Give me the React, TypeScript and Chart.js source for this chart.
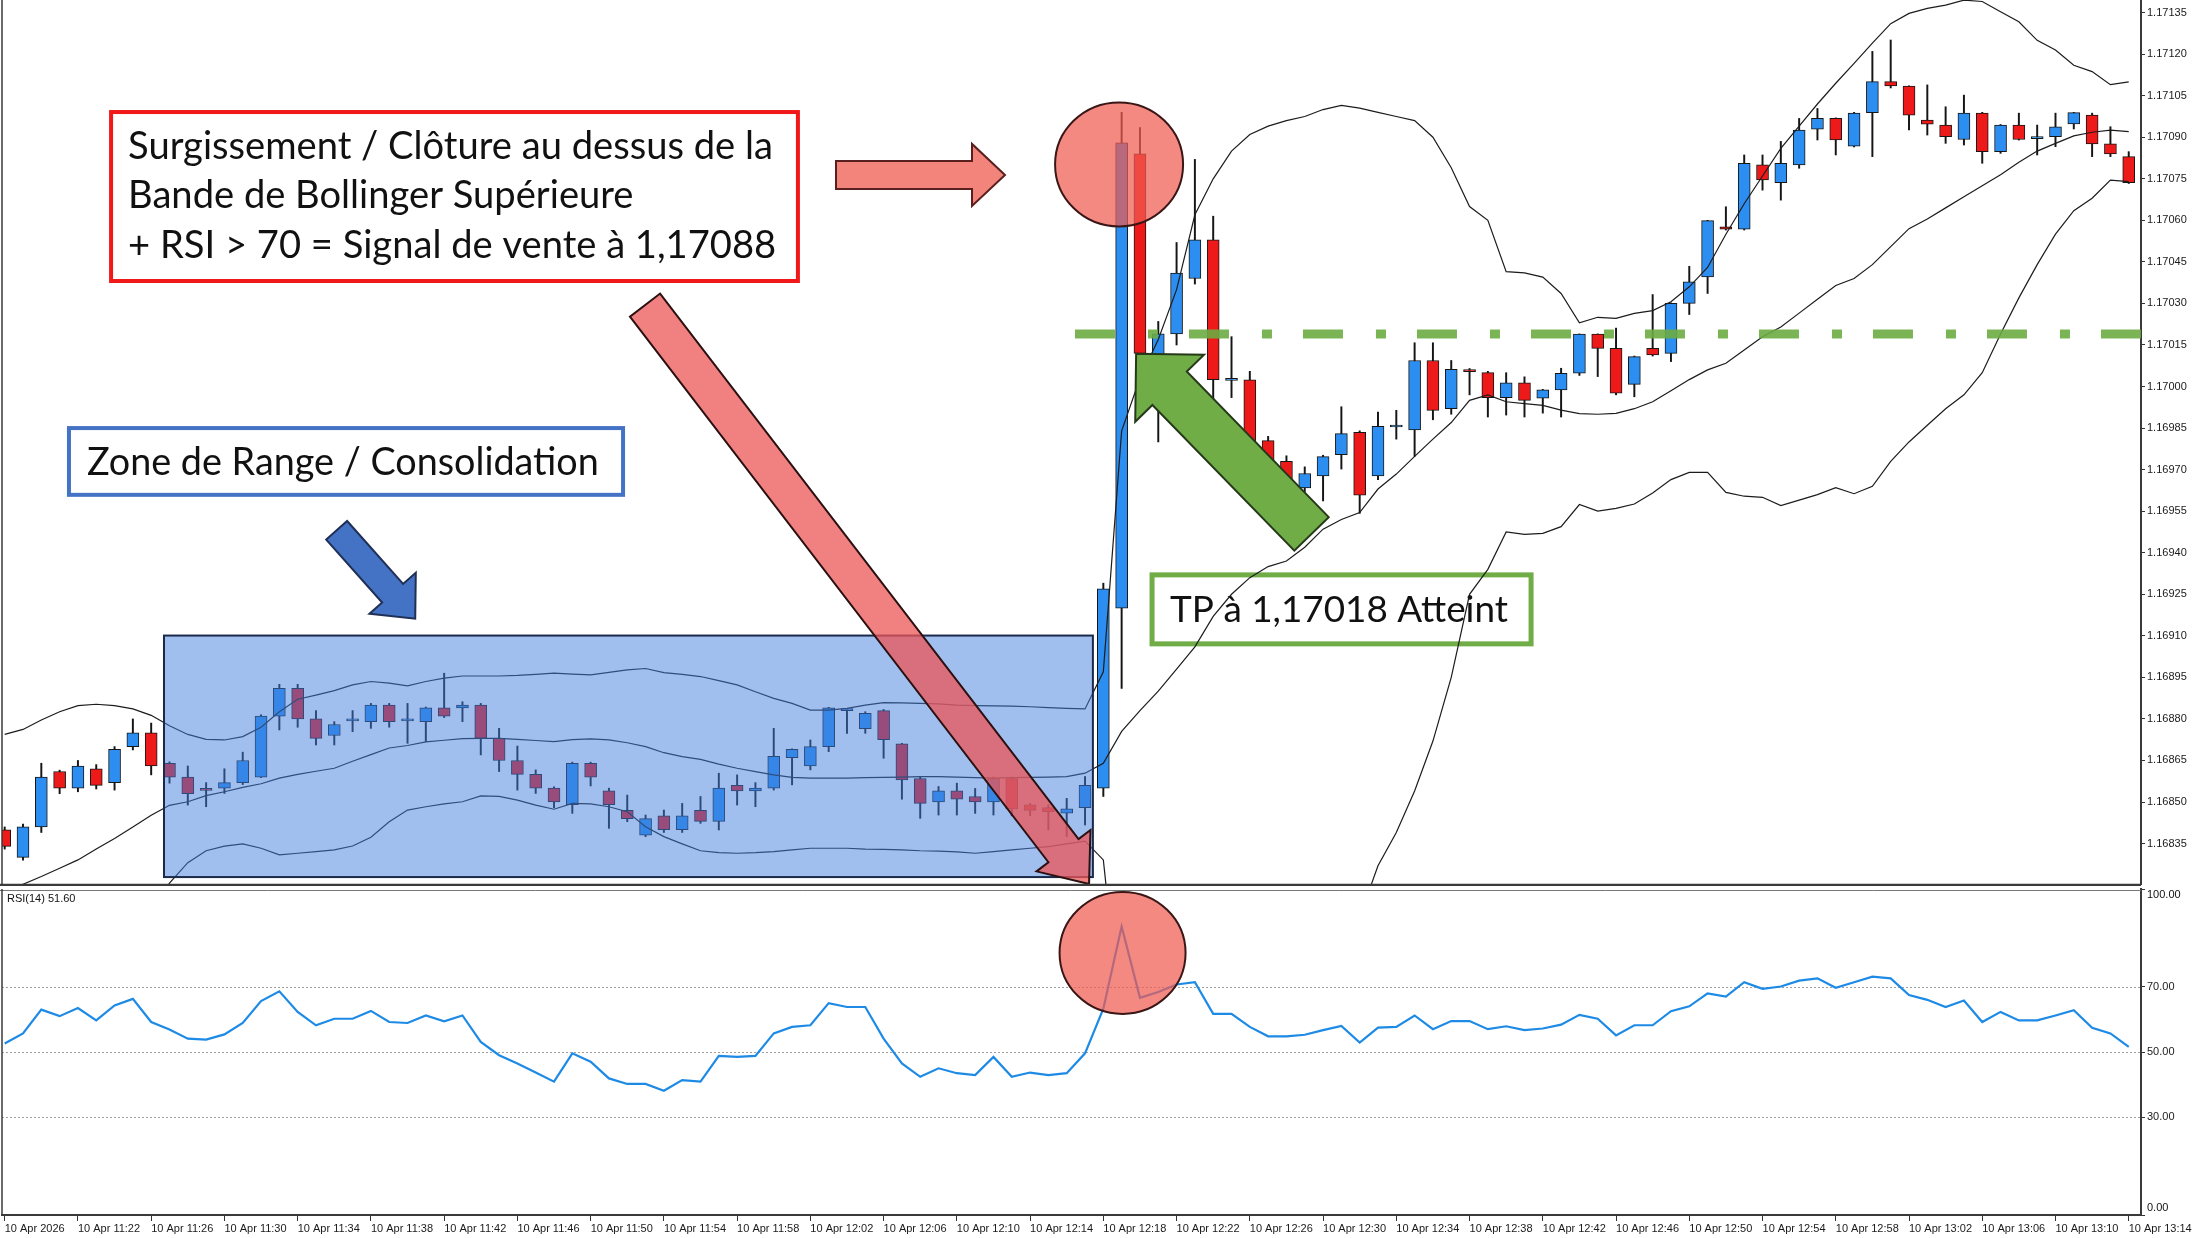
import React, { useEffect, useRef } from 'react';
import { Chart, registerables } from 'chart.js';

Chart.register(...registerables);

// ---------------- DATA (EURUSD M1, 10 Apr 2026, 11:18 -> 13:14) ----------------
const opens = [
  1.16840, 1.16830, 1.16841, 1.16861, 1.16855, 1.16862, 1.16857, 1.16870, 1.16875, 1.16864,
  1.16859, 1.168546, 1.16855, 1.16857, 1.16859, 1.16881, 1.16891, 1.16880, 1.16874, 1.168793,
  1.16879, 1.16885, 1.168793, 1.16879, 1.16884, 1.16884, 1.16885, 1.16873, 1.16865, 1.16860,
  1.16855, 1.16849, 1.16864, 1.16854, 1.16847, 1.16838, 1.16845, 1.16840, 1.16847, 1.16843,
  1.16856, 1.16854, 1.16855, 1.16866, 1.16863, 1.16870, 1.16883, 1.168765, 1.16883, 1.16871,
  1.168585, 1.16850, 1.16854, 1.16852, 1.16850, 1.168585, 1.16849, 1.16848, 1.16846, 1.16848,
  1.16855, 1.16920, 1.17084, 1.17011, 1.17019, 1.17039, 1.17053, 1.170022, 1.170024, 1.169805,
  1.16973, 1.169634, 1.169677, 1.169754, 1.169835, 1.169677, 1.169854, 1.169843, 1.170094, 1.16992,
  1.17006, 1.17005, 1.16996, 1.170013, 1.169958, 1.169988, 1.170048, 1.170189, 1.170138, 1.170008,
  1.170138, 1.17012, 1.17030, 1.170396, 1.170577, 1.170568, 1.17080, 1.170736, 1.17080, 1.170929,
  1.170968, 1.170868, 1.170989, 1.171101, 1.171085, 1.170962, 1.170944, 1.170892, 1.170987, 1.170848,
  1.170944, 1.170895, 1.170902, 1.170948, 1.17098, 1.170876, 1.17083
];
const highs = [
  1.16841, 1.16842, 1.16864, 1.168615, 1.16865, 1.168635, 1.16870, 1.16880, 1.168785, 1.168645,
  1.16863, 1.16857, 1.16862, 1.16868, 1.168815, 1.168925, 1.168925, 1.16883, 1.16879, 1.16883,
  1.168856, 1.168856, 1.168856, 1.168843, 1.168965, 1.168862, 1.168856, 1.168766, 1.168702, 1.168616,
  1.168555, 1.168644, 1.168644, 1.16855, 1.168525, 1.168453, 1.168471, 1.168495, 1.16852, 1.168604,
  1.168598, 1.16857, 1.168766, 1.168692, 1.168724, 1.168842, 1.168835, 1.168826, 1.168834, 1.168712,
  1.16859, 1.168556, 1.168568, 1.168549, 1.16859, 1.16859, 1.168495, 1.16849, 1.168513, 1.168592,
  1.16929, 1.17099, 1.170935, 1.170235, 1.17052, 1.17082, 1.170615, 1.17018, 1.170055, 1.16982,
  1.16975, 1.16971, 1.169752, 1.169927, 1.16984, 1.169908, 1.169914, 1.170158, 1.170158, 1.170094,
  1.170065, 1.170055, 1.17005, 1.170035, 1.16999, 1.170066, 1.17019, 1.17019, 1.170211, 1.17011,
  1.170332, 1.170302, 1.170434, 1.17060, 1.170649, 1.170836, 1.170836, 1.170885, 1.170968, 1.171004,
  1.17097, 1.17099, 1.17121, 1.171251, 1.171086, 1.171089, 1.17101, 1.171052, 1.17099, 1.170946,
  1.170987, 1.170944, 1.170987, 1.17099, 1.170987, 1.170938, 1.170848
];
const lows = [
  1.16833, 1.16829, 1.16839, 1.16853, 1.168537, 1.168547, 1.168543, 1.168688, 1.168598, 1.168568,
  1.168489, 1.168483, 1.168531, 1.168563, 1.168588, 1.16876, 1.16877, 1.168706, 1.168706, 1.168754,
  1.168766, 1.16877, 1.168712, 1.168718, 1.168805, 1.16879, 1.16867, 1.16861, 1.168543, 1.168531,
  1.16848, 1.168459, 1.168558, 1.168405, 1.168429, 1.168375, 1.16839, 1.16839, 1.168423, 1.168399,
  1.168489, 1.168483, 1.168543, 1.168562, 1.168616, 1.168682, 1.168748, 1.168748, 1.168658, 1.16851,
  1.168441, 1.168453, 1.168453, 1.168459, 1.168453, 1.16845, 1.16845, 1.168399, 1.168375, 1.168417,
  1.16852, 1.16891, 1.17005, 1.16980, 1.17015, 1.17037, 1.16995, 1.16996, 1.16976, 1.16970,
  1.16961, 1.16962, 1.169587, 1.169702, 1.169542, 1.169664, 1.16981, 1.169748, 1.16988, 1.16990,
  1.16997, 1.16989, 1.169897, 1.16989, 1.169904, 1.16989, 1.17004, 1.170036, 1.16997, 1.169963,
  1.17011, 1.17009, 1.17026, 1.170336, 1.170565, 1.170565, 1.170709, 1.170673, 1.170788, 1.17089,
  1.170836, 1.170865, 1.17083, 1.171078, 1.170926, 1.170908, 1.170878, 1.170872, 1.170806, 1.170842,
  1.17089, 1.170836, 1.170866, 1.17093, 1.17083, 1.17083, 1.170733
];
const closes = [
  1.16834, 1.16841, 1.16859, 1.16855, 1.16863, 1.16856, 1.16869, 1.16875, 1.16863, 1.16859,
  1.16853, 1.168542, 1.16857, 1.16865, 1.16881, 1.16891, 1.16880, 1.16873, 1.16878, 1.168796,
  1.16885, 1.16879, 1.168796, 1.16884, 1.16881, 1.16885, 1.16873, 1.16865, 1.16860, 1.16855,
  1.16850, 1.16864, 1.16859, 1.16849, 1.16844, 1.16844, 1.16840, 1.16845, 1.16843, 1.16855,
  1.16854, 1.16855, 1.168665, 1.16869, 1.16870, 1.16884, 1.168833, 1.16882, 1.168725, 1.16858,
  1.168495, 1.16854, 1.16851, 1.16850, 1.168585, 1.168475, 1.16847, 1.168465, 1.168475, 1.16856,
  1.16927, 1.17088, 1.17012, 1.17019, 1.17041, 1.17053, 1.170025, 1.170028, 1.16980, 1.169735,
  1.16964, 1.169686, 1.169747, 1.16983, 1.169608, 1.169856, 1.16986, 1.170094, 1.169914, 1.170062,
  1.170054, 1.16996, 1.170013, 1.16995, 1.169988, 1.170048, 1.170189, 1.170138, 1.169976, 1.170108,
  1.170114, 1.17030, 1.170378, 1.170599, 1.170568, 1.170806, 1.170746, 1.170806, 1.170926, 1.170968,
  1.17089, 1.170987, 1.171101, 1.171085, 1.17098, 1.170947, 1.170902, 1.170987, 1.170848, 1.170944,
  1.170892, 1.170902, 1.170938, 1.170989, 1.170876, 1.17084, 1.170736
];
const bbUpper = [
  1.168744, 1.168762, 1.168796, 1.168826, 1.168848, 1.168853, 1.168848, 1.168836, 1.168813, 1.168775,
  1.168744, 1.168726, 1.168724, 1.168736, 1.16877, 1.168826, 1.168871, 1.168886, 1.168902, 1.168923,
  1.168935, 1.168929, 1.168919, 1.168935, 1.168947, 1.168955, 1.168955, 1.168955, 1.168957, 1.168961,
  1.168965, 1.168962, 1.168959, 1.168968, 1.168977, 1.168982, 1.168967, 1.168961, 1.168953, 1.168938,
  1.168923, 1.168898, 1.168874, 1.168856, 1.168832, 1.168832, 1.168838, 1.16885, 1.168859, 1.168858,
  1.168856, 1.168854, 1.16885, 1.168848, 1.168847, 1.168846, 1.168844, 1.168841, 1.168838, 1.168836,
  1.16897, 1.16984, 1.17003, 1.17017, 1.17035, 1.17062, 1.17075, 1.17085, 1.17091, 1.17094,
  1.17096, 1.170975, 1.17100, 1.171015, 1.171005, 1.17099, 1.170975, 1.17096, 1.17090, 1.17079,
  1.17065, 1.17060, 1.170415, 1.17041, 1.170395, 1.170336, 1.17023, 1.17025, 1.170246, 1.170264,
  1.170274, 1.170306, 1.17036, 1.17043, 1.17055, 1.17066, 1.17076, 1.17086, 1.17094, 1.17102,
  1.171095, 1.171167, 1.17124, 1.17131, 1.171347, 1.171365, 1.171377, 1.171395, 1.17139, 1.171353,
  1.171317, 1.17125, 1.171215, 1.17116, 1.171137, 1.17109, 1.17110
];
const bbMiddle = [
  1.168176, 1.168203, 1.168231, 1.168261, 1.168291, 1.16833, 1.168368, 1.16841, 1.168452, 1.168488,
  1.168501, 1.168523, 1.168537, 1.168553, 1.168566, 1.168586, 1.1686, 1.168611, 1.168622, 1.168647,
  1.168671, 1.168695, 1.168704, 1.168717, 1.168723, 1.168729, 1.16873, 1.16873, 1.168726, 1.168722,
  1.168718, 1.168725, 1.168728, 1.168724, 1.168714, 1.1687, 1.168678, 1.168664, 1.168654, 1.168637,
  1.168622, 1.16861, 1.168598, 1.168589, 1.168586, 1.168586, 1.168586, 1.168588, 1.168589, 1.16859,
  1.168592, 1.168592, 1.16859, 1.168588, 1.168586, 1.168588, 1.168589, 1.16859, 1.168592, 1.168604,
  1.16864, 1.168755, 1.16883, 1.16890, 1.16898, 1.16906, 1.16917, 1.16925, 1.16931, 1.16935,
  1.16937, 1.16942, 1.169485, 1.16952, 1.169545, 1.16963, 1.169684, 1.169748, 1.16981, 1.16987,
  1.16995, 1.16997, 1.169945, 1.169938, 1.169932, 1.169915, 1.169902, 1.1699, 1.169903, 1.16992,
  1.169945, 1.169985, 1.170025, 1.17006, 1.170084, 1.170132, 1.17018, 1.170215, 1.170265, 1.170315,
  1.170365, 1.17039, 1.17044, 1.170505, 1.17057, 1.170605, 1.170645, 1.170685, 1.170725, 1.170765,
  1.17081, 1.17085, 1.170878, 1.170905, 1.170918, 1.170926, 1.17092
];
const bbLower = [
  1.167608, 1.167644, 1.167666, 1.167696, 1.167734, 1.167807, 1.167888, 1.167984, 1.168091, 1.168207,
  1.168281, 1.168324, 1.168341, 1.168349, 1.168333, 1.168309, 1.168315, 1.168321, 1.168327, 1.168341,
  1.168373, 1.168429, 1.168471, 1.168483, 1.168493, 1.168501, 1.168522, 1.16852, 1.168507, 1.168489,
  1.168474, 1.168495, 1.168493, 1.168483, 1.168465, 1.168411, 1.168375, 1.168349, 1.168324, 1.168317,
  1.168315, 1.168317, 1.168321, 1.168327, 1.168333, 1.168333, 1.168333, 1.16833, 1.168329, 1.168327,
  1.168324, 1.168323, 1.16832, 1.168315, 1.168321, 1.168327, 1.168333, 1.168339, 1.168349, 1.168359,
  1.168291, 1.16767, 1.16763, 1.16763, 1.16761, 1.1675, 1.16759, 1.16765, 1.16771, 1.16776,
  1.16778, 1.167865, 1.16797, 1.168025, 1.168085, 1.16827, 1.16839, 1.16854, 1.16872, 1.16895,
  1.16925, 1.16934, 1.169475, 1.169466, 1.16947, 1.169494, 1.169574, 1.16955, 1.16956, 1.169576,
  1.169616, 1.169664, 1.16969, 1.16969, 1.169618, 1.169604, 1.1696, 1.16957, 1.16959, 1.16961,
  1.169635, 1.169613, 1.16964, 1.16973, 1.1698, 1.16986, 1.16992, 1.16997, 1.17005, 1.17019,
  1.17032, 1.17044, 1.17055, 1.170635, 1.17068, 1.170745, 1.17074
];
const rsi = [
  52.6, 55.7, 63, 61, 63.5, 59.7, 64.3, 66.3, 59.2, 56.9,
  54.1, 53.8, 55.4, 58.9, 65.6, 68.6, 62.3, 58.2, 60.2, 60.2,
  62.6, 59.2, 58.9, 61.2, 59.4, 61.2, 53.1, 49.0, 46.5, 43.7,
  40.9, 49.6, 47.0, 41.9, 40.2, 40.2, 38.1, 41.4, 40.9, 48.8,
  48.5, 48.8, 55.7, 57.7, 58.2, 65, 63.8, 63.8, 54.1, 46.5,
  42.4, 45, 43.5, 42.9, 48.5, 42.4, 43.7, 42.9, 43.5, 49.6,
  63.3, 88.5, 66.6, 68.4, 70.7, 71.4, 61.7, 61.7, 57.7, 54.8,
  54.8, 55.3, 56.7, 58, 52.9, 57.5, 57.7, 61.2, 57, 59.5,
  59.5, 57, 57.9, 56.7, 57.2, 58.4, 61.4, 60.2, 55.1, 58.2,
  58.2, 62.5, 64, 68, 67, 71.4, 69.4, 70.1, 71.9, 72.6,
  69.7, 71.4, 73.1, 72.6, 67.5, 66, 63.8, 65.8, 59.2, 62.3,
  59.7, 59.7, 61.2, 62.8, 57.4, 55.7, 51.6
];
const priceTicks = [
  1.16835, 1.16850, 1.16865, 1.16880, 1.16895, 1.16910, 1.16925, 1.16940, 1.16955, 1.16970, 1.16985,
  1.17000, 1.17015, 1.17030, 1.17045, 1.17060, 1.17075, 1.17090, 1.17105, 1.17120, 1.17135
];
const rsiTicks = [0, 30, 50, 70, 100];
const rsiLevels = [30, 50, 70];
const timeLabels = [
  '10 Apr 2026', '10 Apr 11:22', '10 Apr 11:26', '10 Apr 11:30', '10 Apr 11:34', '10 Apr 11:38',
  '10 Apr 11:42', '10 Apr 11:46', '10 Apr 11:50', '10 Apr 11:54', '10 Apr 11:58', '10 Apr 12:02',
  '10 Apr 12:06', '10 Apr 12:10', '10 Apr 12:14', '10 Apr 12:18', '10 Apr 12:22', '10 Apr 12:26',
  '10 Apr 12:30', '10 Apr 12:34', '10 Apr 12:38', '10 Apr 12:42', '10 Apr 12:46', '10 Apr 12:50',
  '10 Apr 12:54', '10 Apr 12:58', '10 Apr 13:02', '10 Apr 13:06', '10 Apr 13:10', '10 Apr 13:14'
];
const LABEL_STEP = 4;
const TP_LEVEL = 1.17019;

// ---------------- annotation anchors (bar index, price) ----------------
const RANGE_BOX = { i0: 8.7, i1: 59.43, p0: 1.169101, p1: 1.168229 };
const ZONE_BOX = { i0: 3.51, i1: 33.77, p0: 1.16985, p1: 1.169609 };
const RED_BOX = { i0: 5.81, i1: 43.32, p0: 1.170991, p1: 1.170381 };
const TP_BOX = { i0: 62.66, i1: 83.36, p0: 1.16932, p1: 1.169071 };
const BLUE_ARROW = { i0: 18.13, p0: 1.169481, i1: 22.42, p1: 1.169162 };
const PINK_ARROW = { i0: 45.4, i1: 54.63, p: 1.170764 };
const BIG_RED_ARROW = { i0: 34.97, p0: 1.170294, i1: 59.22, p1: 1.168204 };
const GREEN_ARROW = { i0: 71.37, p0: 1.169468, i1: 61.79, p1: 1.170118 };
const SPIKE_CIRCLE = { i: 60.86, p: 1.170802 };
const RSI_CIRCLE = { i: 61.05, v: 80.4 };
const TP_LINE_START = 58.45;

const ZONE_TEXT = 'Zone de Range / Consolidation';
const RED_TEXT = [
  'Surgissement / Clôture au dessus de la',
  'Bande de Bollinger Supérieure',
  '+ RSI > 70 = Signal de vente à 1,17088'
];
const TP_TEXT = 'TP à 1,17018 Atteint';

const X_MIN = -0.147;
const X_MAX = 116.67;
const AXIS_FONT = { family: '"Liberation Sans", Arial, sans-serif', size: 11 };
const NOTE_FONT = 'Lato, "Open Sans", sans-serif';

// ---------------- drawing helpers ----------------
function arrowPath(ctx, x1, y1, x2, y2, shaftHalf, headHalf, headLen) {
  const dx = x2 - x1, dy = y2 - y1;
  const len = Math.hypot(dx, dy);
  const ux = dx / len, uy = dy / len;
  const px = -uy, py = ux;
  const bx = x2 - ux * headLen, by = y2 - uy * headLen;
  ctx.beginPath();
  ctx.moveTo(x1 + px * shaftHalf, y1 + py * shaftHalf);
  ctx.lineTo(bx + px * shaftHalf, by + py * shaftHalf);
  ctx.lineTo(bx + px * headHalf, by + py * headHalf);
  ctx.lineTo(x2, y2);
  ctx.lineTo(bx - px * headHalf, by - py * headHalf);
  ctx.lineTo(bx - px * shaftHalf, by - py * shaftHalf);
  ctx.lineTo(x1 - px * shaftHalf, y1 - py * shaftHalf);
  ctx.closePath();
}
function fillStroke(ctx, fill, stroke, lw) {
  ctx.fillStyle = fill;
  ctx.fill();
  ctx.lineWidth = lw;
  ctx.strokeStyle = stroke;
  ctx.lineJoin = 'miter';
  ctx.stroke();
}
function textBox(ctx, x0, y0, x1, y1, border, lw) {
  ctx.fillStyle = '#ffffff';
  ctx.fillRect(x0, y0, x1 - x0, y1 - y0);
  ctx.lineWidth = lw;
  ctx.strokeStyle = border;
  ctx.strokeRect(x0, y0, x1 - x0, y1 - y0);
}
function fitSize(ctx, text, targetW) {
  ctx.font = `100px ${NOTE_FONT}`;
  const w = ctx.measureText(text).width;
  return (100 * targetW) / w;
}
function drawText(ctx, text, x, y, size) {
  ctx.font = `${size}px ${NOTE_FONT}`;
  ctx.fillStyle = '#111111';
  ctx.textAlign = 'left';
  ctx.textBaseline = 'middle';
  ctx.fillText(text, x, y);
}
function noVerticalPad(s) {
  s.paddingTop = 0;
  s.paddingBottom = 0;
}

const mainOverlay = {
  id: 'mainOverlay',
  beforeDatasetsDraw(chart) {
    const { ctx } = chart;
    const X = (v) => chart.scales.x.getPixelForValue(v);
    const Y = (v) => chart.scales.y.getPixelForValue(v);
    ctx.save();
    const x0 = X(TP_BOX.i0), x1 = X(TP_BOX.i1), y0 = Y(TP_BOX.p0), y1 = Y(TP_BOX.p1);
    textBox(ctx, x0, y0, x1, y1, '#70ad47', 5);
    drawText(ctx, TP_TEXT, x0 + 18, (y0 + y1) / 2 + 1, fitSize(ctx, TP_TEXT, 338));
    ctx.restore();
  },
  afterDatasetsDraw(chart) {
    const { ctx, chartArea: a } = chart;
    const X = (v) => chart.scales.x.getPixelForValue(v);
    const Y = (v) => chart.scales.y.getPixelForValue(v);
    ctx.save();
    ctx.beginPath();
    ctx.rect(a.left, a.top, a.right - a.left, a.bottom - a.top);
    ctx.clip();

    // range rectangle
    {
      const x0 = X(RANGE_BOX.i0), x1 = X(RANGE_BOX.i1), y0 = Y(RANGE_BOX.p0), y1 = Y(RANGE_BOX.p1);
      ctx.fillStyle = 'rgba(66,126,222,0.5)';
      ctx.fillRect(x0, y0, x1 - x0, y1 - y0);
      ctx.lineWidth = 2;
      ctx.strokeStyle = '#1b2a4a';
      ctx.strokeRect(x0, y0, x1 - x0, y1 - y0);
    }
    // zone label
    {
      const x0 = X(ZONE_BOX.i0), x1 = X(ZONE_BOX.i1), y0 = Y(ZONE_BOX.p0), y1 = Y(ZONE_BOX.p1);
      textBox(ctx, x0, y0, x1, y1, '#4472c4', 4);
      drawText(ctx, ZONE_TEXT, x0 + 18, (y0 + y1) / 2 + 1, fitSize(ctx, ZONE_TEXT, 512));
    }
    // blue arrow
    arrowPath(ctx, X(BLUE_ARROW.i0), Y(BLUE_ARROW.p0), X(BLUE_ARROW.i1), Y(BLUE_ARROW.p1), 14, 31, 34);
    fillStroke(ctx, '#4472c4', '#1f2f55', 2);
    // red text box
    {
      const x0 = X(RED_BOX.i0), x1 = X(RED_BOX.i1), y0 = Y(RED_BOX.p0), y1 = Y(RED_BOX.p1);
      textBox(ctx, x0, y0, x1, y1, '#f01818', 4);
      const size = fitSize(ctx, RED_TEXT[0], 645);
      const offs = [35, 84, 134];
      RED_TEXT.forEach((t, k) => drawText(ctx, t, x0 + 17, y0 + offs[k], size));
    }
    // pink arrow
    arrowPath(ctx, X(PINK_ARROW.i0), Y(PINK_ARROW.p), X(PINK_ARROW.i1), Y(PINK_ARROW.p), 14, 31, 33);
    fillStroke(ctx, 'rgba(240,110,100,0.85)', '#5a2020', 2);
    // spike circle
    ctx.beginPath();
    ctx.ellipse(X(SPIKE_CIRCLE.i), Y(SPIKE_CIRCLE.p), 64, 62, 0, 0, Math.PI * 2);
    fillStroke(ctx, 'rgba(240,92,82,0.72)', '#3a1616', 2);
    // TP dash-dot line
    ctx.beginPath();
    ctx.setLineDash([40, 33, 10, 31]);
    ctx.lineWidth = 9;
    ctx.strokeStyle = 'rgba(108,172,66,0.9)';
    ctx.moveTo(X(TP_LINE_START), Y(TP_LEVEL));
    ctx.lineTo(a.right, Y(TP_LEVEL));
    ctx.stroke();
    ctx.setLineDash([]);
    // big red arrow
    arrowPath(ctx, X(BIG_RED_ARROW.i0), Y(BIG_RED_ARROW.p0), X(BIG_RED_ARROW.i1), Y(BIG_RED_ARROW.p1), 19, 34, 42);
    fillStroke(ctx, 'rgba(236,86,86,0.75)', '#2a1010', 2);
    // green arrow
    arrowPath(ctx, X(GREEN_ARROW.i0), Y(GREEN_ARROW.p0), X(GREEN_ARROW.i1), Y(GREEN_ARROW.p1), 24, 48, 48);
    fillStroke(ctx, '#70ad47', '#26391a', 2);
    ctx.restore();
  },
  afterDraw(chart) {
    const { ctx, chartArea: a } = chart;
    ctx.save();
    ctx.strokeStyle = '#3a3a3a';
    ctx.lineWidth = 1.5;
    ctx.beginPath();
    ctx.moveTo(a.left, a.top);
    ctx.lineTo(a.left, a.bottom);
    ctx.stroke();
    ctx.lineWidth = 2.5;
    ctx.beginPath();
    ctx.moveTo(0, a.bottom + 1);
    ctx.lineTo(a.right, a.bottom + 1);
    ctx.stroke();
    ctx.restore();
  }
};

const rsiOverlay = {
  id: 'rsiOverlay',
  beforeDatasetsDraw(chart) {
    const { ctx, chartArea: a } = chart;
    const Y = (v) => chart.scales.y.getPixelForValue(v);
    ctx.save();
    ctx.setLineDash([2, 2]);
    ctx.lineWidth = 1;
    ctx.strokeStyle = '#a0a0a0';
    rsiLevels.forEach((lv) => {
      const y = Math.round(Y(lv)) + 0.5;
      ctx.beginPath();
      ctx.moveTo(a.left, y);
      ctx.lineTo(a.right, y);
      ctx.stroke();
    });
    ctx.restore();
  },
  afterDatasetsDraw(chart) {
    const { ctx, chartArea: a } = chart;
    const X = (v) => chart.scales.x.getPixelForValue(v);
    const Y = (v) => chart.scales.y.getPixelForValue(v);
    ctx.save();
    ctx.beginPath();
    ctx.rect(a.left, a.top, a.right - a.left, a.bottom - a.top);
    ctx.clip();
    ctx.beginPath();
    ctx.ellipse(X(RSI_CIRCLE.i), Y(RSI_CIRCLE.v), 63, 61, 0, 0, Math.PI * 2);
    fillStroke(ctx, 'rgba(240,92,82,0.72)', '#3a1616', 2);
    ctx.restore();

    ctx.save();
    ctx.font = `11px ${AXIS_FONT.family}`;
    ctx.fillStyle = '#111';
    ctx.textAlign = 'left';
    ctx.textBaseline = 'middle';
    ctx.fillText(`RSI(14) ${rsi[rsi.length - 1].toFixed(2)}`, 7, a.top + 10);
    ctx.fillText((100).toFixed(2), a.right + 6, a.top + 6);
    ctx.fillText((0).toFixed(2), a.right + 6, a.bottom - 7);
    ctx.strokeStyle = '#777';
    ctx.lineWidth = 1;
    ctx.beginPath();
    ctx.moveTo(0, a.top + 1.5);
    ctx.lineTo(a.right, a.top + 1.5);
    ctx.stroke();
    ctx.strokeStyle = '#3a3a3a';
    ctx.lineWidth = 1.5;
    ctx.beginPath();
    ctx.moveTo(a.left, a.top);
    ctx.lineTo(a.left, a.bottom);
    ctx.stroke();
    ctx.restore();
  }
};

export default function App() {
  const mainRef = useRef(null);
  const rsiRef = useRef(null);

  useEffect(() => {
    document.body.style.margin = '0';
    const idx = closes.map((_, i) => i);
    const bodyColors = idx.map((i) => (closes[i] >= opens[i] ? '#2b8ef0' : '#ee1a1a'));

    const main = new Chart(mainRef.current, {
      type: 'bar',
      data: {
        datasets: [
          {
            type: 'line',
            label: 'BB upper',
            data: idx.map((i) => ({ x: i, y: bbUpper[i] })),
            borderColor: '#1c1c1c',
            borderWidth: 1.2,
            pointRadius: 0,
            order: 0
          },
          {
            type: 'line',
            label: 'BB middle',
            data: idx.map((i) => ({ x: i, y: bbMiddle[i] })),
            borderColor: '#1c1c1c',
            borderWidth: 1.2,
            pointRadius: 0,
            order: 0
          },
          {
            type: 'line',
            label: 'BB lower',
            data: idx.map((i) => ({ x: i, y: bbLower[i] })),
            borderColor: '#1c1c1c',
            borderWidth: 1.2,
            pointRadius: 0,
            order: 0
          },
          {
            type: 'bar',
            label: 'body',
            data: idx.map((i) => ({ x: i, y: [opens[i], closes[i]] })),
            backgroundColor: bodyColors,
            borderColor: '#161616',
            borderWidth: 1,
            borderSkipped: false,
            barThickness: 12,
            minBarLength: 2,
            grouped: false,
            order: 1
          },
          {
            type: 'bar',
            label: 'wick',
            data: idx.map((i) => ({ x: i, y: [lows[i], highs[i]] })),
            backgroundColor: '#151515',
            borderWidth: 0,
            barThickness: 1.3,
            grouped: false,
            order: 2
          }
        ]
      },
      options: {
        responsive: false,
        maintainAspectRatio: false,
        animation: false,
        events: [],
        layout: { padding: { left: 2, top: 0, right: 0, bottom: 2 }, autoPadding: false },
        plugins: { legend: { display: false }, tooltip: { enabled: false } },
        scales: {
          x: { type: 'linear', min: X_MIN, max: X_MAX, display: false, offset: false },
          y: {
            type: 'linear',
            position: 'right',
            min: 1.168204,
            max: 1.1713955,
            beginAtZero: false,
            afterBuildTicks: (s) => { s.ticks = priceTicks.map((v) => ({ value: v })); },
            afterFit: (s) => { s.width = 59; noVerticalPad(s); },
            ticks: { callback: (v) => Number(v).toFixed(5), font: AXIS_FONT, color: '#1a1a1a', padding: 2 },
            grid: { drawOnChartArea: false, drawTicks: true, tickLength: 4, color: '#333' },
            border: { display: true, color: '#3a3a3a', width: 2 }
          }
        }
      },
      plugins: [mainOverlay]
    });

    const rsiChart = new Chart(rsiRef.current, {
      type: 'line',
      data: {
        datasets: [
          {
            label: 'RSI(14)',
            data: idx.map((i) => ({ x: i, y: rsi[i] })),
            borderColor: '#1d8ae6',
            borderWidth: 2.2,
            pointRadius: 0,
            tension: 0
          }
        ]
      },
      options: {
        responsive: false,
        maintainAspectRatio: false,
        animation: false,
        events: [],
        layout: { padding: { left: 2, top: 3, right: 0, bottom: 0 }, autoPadding: false },
        plugins: { legend: { display: false }, tooltip: { enabled: false } },
        scales: {
          x: {
            type: 'linear',
            min: X_MIN,
            max: X_MAX,
            offset: false,
            afterBuildTicks: (s) => { s.ticks = timeLabels.map((_, k) => ({ value: k * LABEL_STEP })); },
            afterFit: (s) => { s.height = 23; s.paddingLeft = 0; s.paddingRight = 0; },
            ticks: {
              callback: (v) => timeLabels[Math.round(Number(v) / LABEL_STEP)],
              autoSkip: false,
              maxRotation: 0,
              minRotation: 0,
              align: 'start',
              padding: 1,
              font: AXIS_FONT,
              color: '#1a1a1a'
            },
            grid: { drawOnChartArea: false, drawTicks: true, tickLength: 6, color: '#333' },
            border: { display: true, color: '#3a3a3a', width: 2 }
          },
          y: {
            type: 'linear',
            position: 'right',
            min: 0,
            max: 100,
            afterBuildTicks: (s) => { s.ticks = rsiTicks.map((v) => ({ value: v })); },
            afterFit: (s) => { s.width = 59; noVerticalPad(s); },
            ticks: {
              callback: (v) => (v === 0 || v === 100 ? '' : Number(v).toFixed(2)),
              font: AXIS_FONT,
              color: '#1a1a1a',
              padding: 2
            },
            grid: { drawOnChartArea: false, drawTicks: true, tickLength: 4, color: '#333' },
            border: { display: true, color: '#3a3a3a', width: 2 }
          }
        }
      },
      plugins: [rsiOverlay]
    });

    return () => {
      main.destroy();
      rsiChart.destroy();
    };
  }, []);

  return (
    <div style={{ position: 'relative', width: 2200, height: 1238, background: '#ffffff', overflow: 'hidden' }}>
      <canvas ref={mainRef} width={2200} height={886} style={{ position: 'absolute', left: 0, top: 0 }} />
      <canvas ref={rsiRef} width={2200} height={352} style={{ position: 'absolute', left: 0, top: 886 }} />
    </div>
  );
}
